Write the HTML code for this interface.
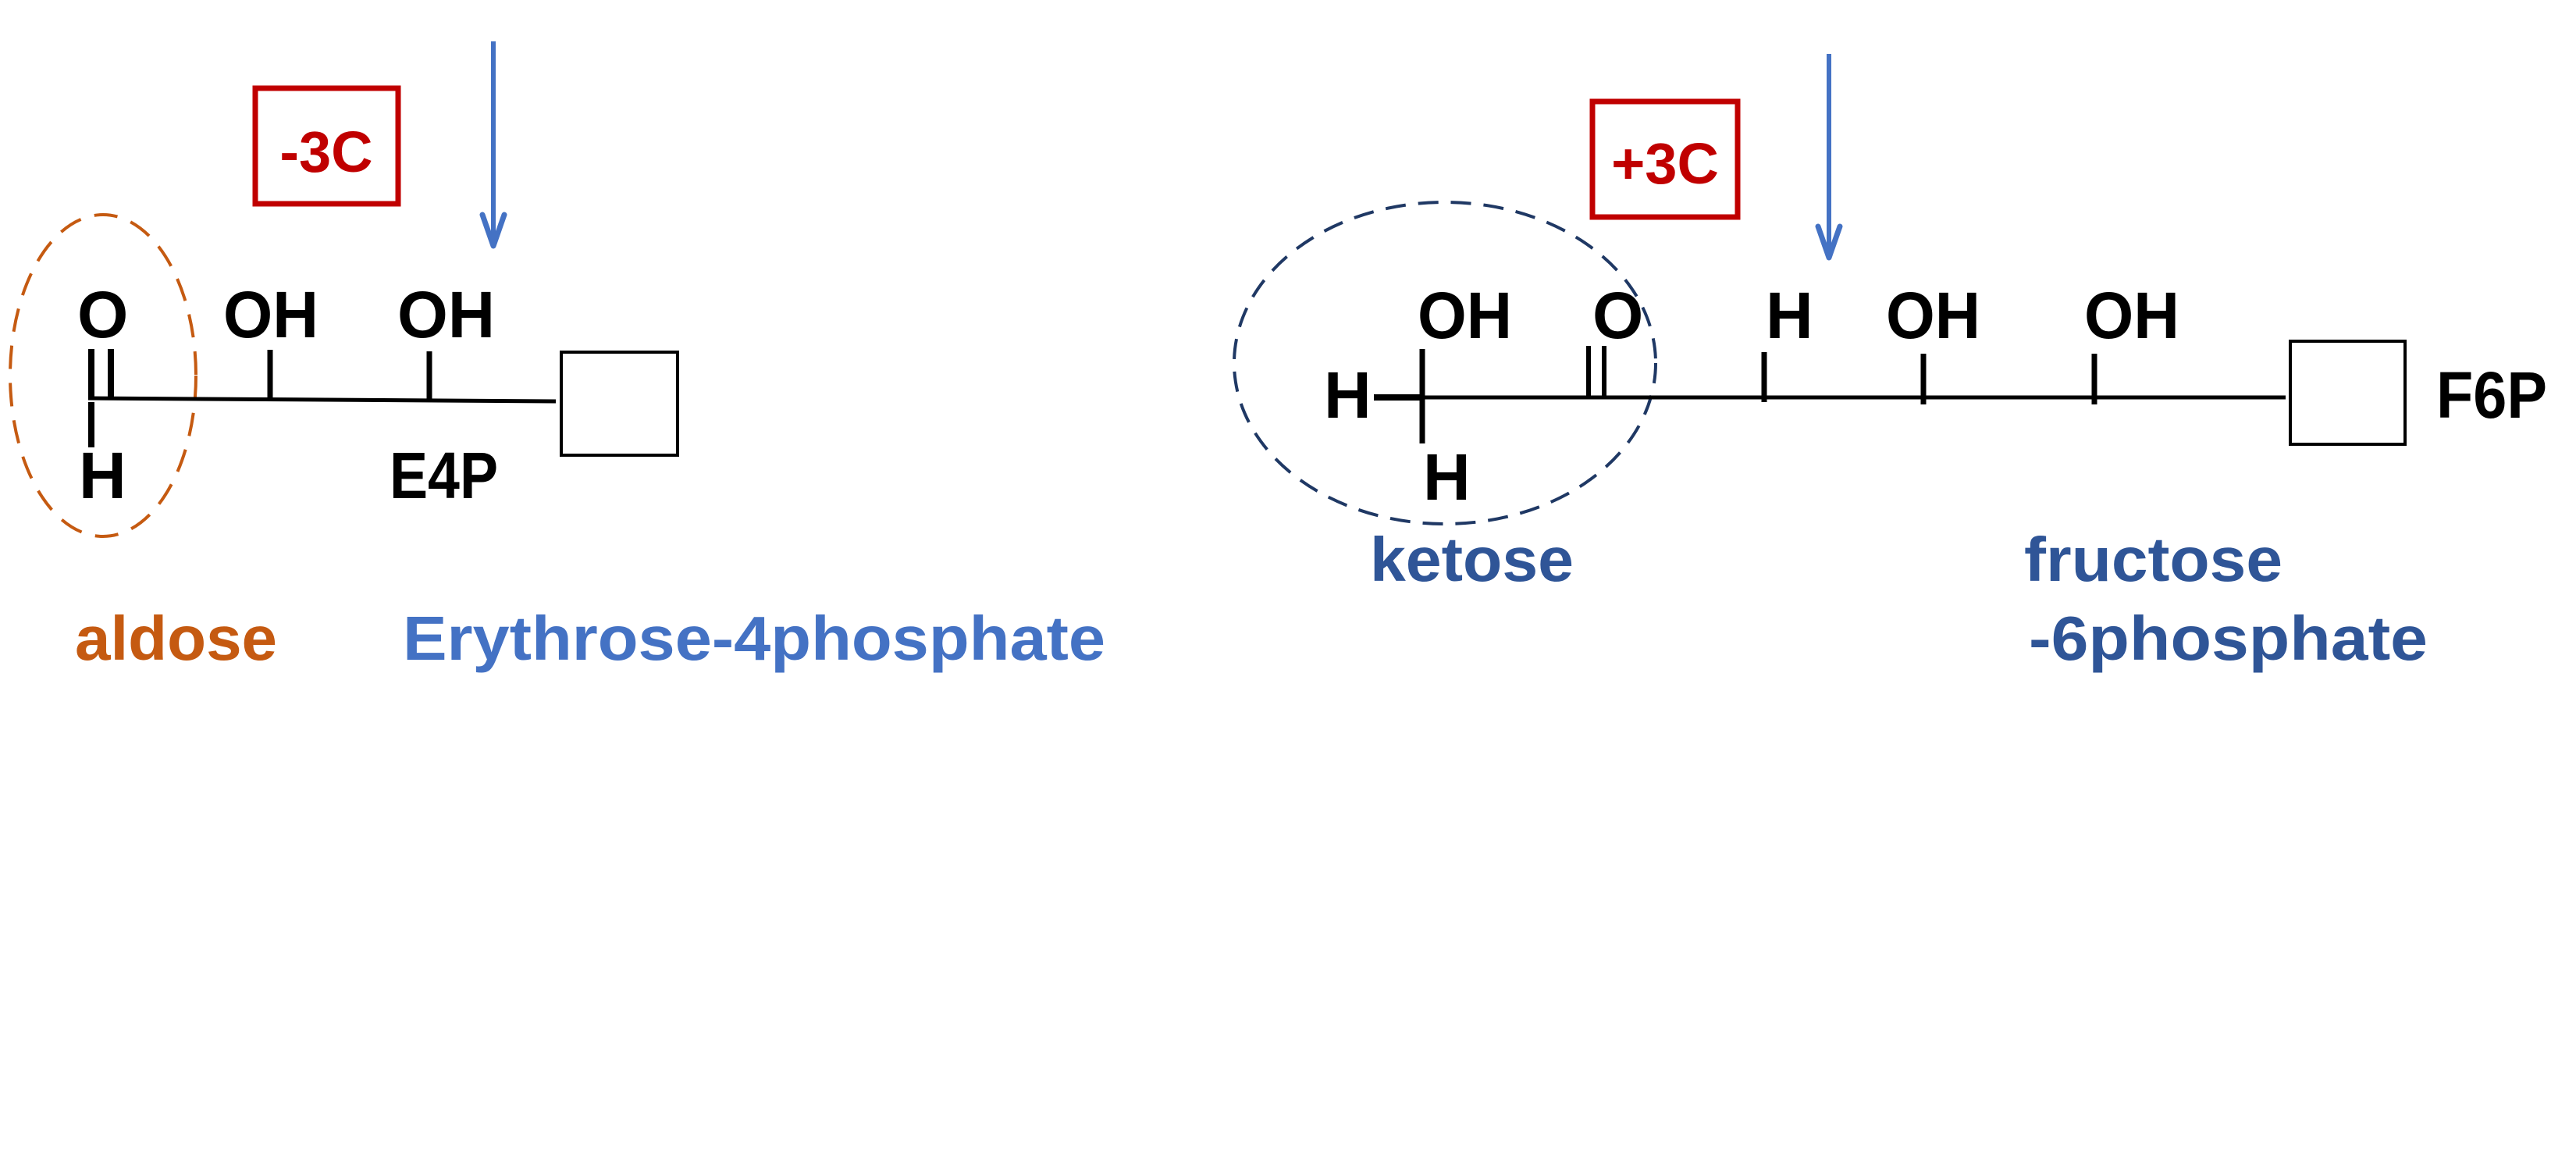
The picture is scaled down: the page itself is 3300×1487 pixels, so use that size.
<!DOCTYPE html>
<html><head><meta charset="utf-8"><style>
html,body{margin:0;padding:0;background:#fff;}
svg{display:block;}
text{font-family:"Liberation Sans",sans-serif;font-weight:bold;}
</style></head><body>
<svg width="3300" height="1487" viewBox="0 0 3300 1487" xmlns="http://www.w3.org/2000/svg">
<rect width="3300" height="1487" fill="#fff"/>
<!-- LEFT -->
<line x1="632" y1="53" x2="632" y2="310" stroke="#4472c4" stroke-width="6"/>
<polyline points="618,275 632,315 646,275" fill="none" stroke="#4472c4" stroke-width="7" stroke-linejoin="round" stroke-linecap="round"/>
<rect x="327" y="113" width="183" height="148" fill="none" stroke="#c00000" stroke-width="7"/>
<text x="418" y="220" font-size="74" fill="#c00000" text-anchor="middle">-3C</text>
<ellipse cx="132" cy="481" rx="119" ry="206" fill="none" stroke="#c55a11" stroke-width="4" stroke-dasharray="30,18"/>
<text x="99" y="432" font-size="84" fill="#000">O</text>
<text x="286" y="432" font-size="84" fill="#000" textLength="122" lengthAdjust="spacingAndGlyphs">OH</text>
<text x="509" y="432" font-size="84" fill="#000" textLength="125" lengthAdjust="spacingAndGlyphs">OH</text>
<line x1="113" y1="510" x2="712" y2="514" stroke="#000" stroke-width="5"/>
<line x1="117" y1="447" x2="117" y2="510" stroke="#000" stroke-width="8"/>
<line x1="142" y1="447" x2="142" y2="510" stroke="#000" stroke-width="8"/>
<line x1="117" y1="515" x2="117" y2="573" stroke="#000" stroke-width="8"/>
<line x1="346" y1="448" x2="346" y2="512" stroke="#000" stroke-width="7"/>
<line x1="550" y1="450" x2="550" y2="513" stroke="#000" stroke-width="7"/>
<rect x="719" y="451" width="149" height="132" fill="none" stroke="#000" stroke-width="4"/>
<text x="101" y="638" font-size="84" fill="#000">H</text>
<text x="499" y="638" font-size="84" fill="#000" textLength="139" lengthAdjust="spacingAndGlyphs">E4P</text>
<text x="96" y="845" font-size="80" fill="#c55a11" textLength="259" lengthAdjust="spacingAndGlyphs">aldose</text>
<text x="516" y="845" font-size="80" fill="#4472c4" textLength="900" lengthAdjust="spacingAndGlyphs">Erythrose-4phosphate</text>
<!-- RIGHT -->
<line x1="2343" y1="69" x2="2343" y2="325" stroke="#4472c4" stroke-width="6"/>
<polyline points="2329,290 2343,330 2357,290" fill="none" stroke="#4472c4" stroke-width="7" stroke-linejoin="round" stroke-linecap="round"/>
<rect x="2040" y="130" width="186" height="148" fill="none" stroke="#c00000" stroke-width="7"/>
<text x="2133" y="235" font-size="74" fill="#c00000" text-anchor="middle">+3C</text>
<ellipse cx="1851" cy="465" rx="270" ry="206" fill="none" stroke="#1f3864" stroke-width="4" stroke-dasharray="26,16"/>
<text x="1816" y="433" font-size="84" fill="#000" textLength="121" lengthAdjust="spacingAndGlyphs">OH</text>
<text x="2040" y="433" font-size="84" fill="#000">O</text>
<text x="2262" y="433" font-size="84" fill="#000">H</text>
<text x="2416" y="433" font-size="84" fill="#000" textLength="121" lengthAdjust="spacingAndGlyphs">OH</text>
<text x="2670" y="433" font-size="84" fill="#000" textLength="122" lengthAdjust="spacingAndGlyphs">OH</text>
<text x="1696" y="535" font-size="84" fill="#000">H</text>
<line x1="1760" y1="509" x2="1822" y2="509" stroke="#000" stroke-width="8"/>
<line x1="1822" y1="509" x2="2928" y2="509" stroke="#000" stroke-width="5"/>
<line x1="1822" y1="447" x2="1822" y2="568" stroke="#000" stroke-width="7"/>
<line x1="2035" y1="443" x2="2035" y2="509" stroke="#000" stroke-width="6"/>
<line x1="2055" y1="443" x2="2055" y2="509" stroke="#000" stroke-width="6"/>
<line x1="2260" y1="451" x2="2260" y2="515" stroke="#000" stroke-width="7"/>
<line x1="2464" y1="453" x2="2464" y2="518" stroke="#000" stroke-width="7"/>
<line x1="2683" y1="453" x2="2683" y2="518" stroke="#000" stroke-width="7"/>
<rect x="2934" y="437" width="147" height="132" fill="none" stroke="#000" stroke-width="4"/>
<text x="3121" y="535" font-size="84" fill="#000" textLength="142" lengthAdjust="spacingAndGlyphs">F6P</text>
<text x="1823" y="640" font-size="84" fill="#000">H</text>
<text x="1755" y="744" font-size="80" fill="#2f5597" textLength="261" lengthAdjust="spacingAndGlyphs">ketose</text>
<text x="2593" y="744" font-size="80" fill="#2f5597" textLength="331" lengthAdjust="spacingAndGlyphs">fructose</text>
<text x="2599" y="845" font-size="80" fill="#2f5597" textLength="511" lengthAdjust="spacingAndGlyphs">-6phosphate</text>
</svg>
</body></html>
